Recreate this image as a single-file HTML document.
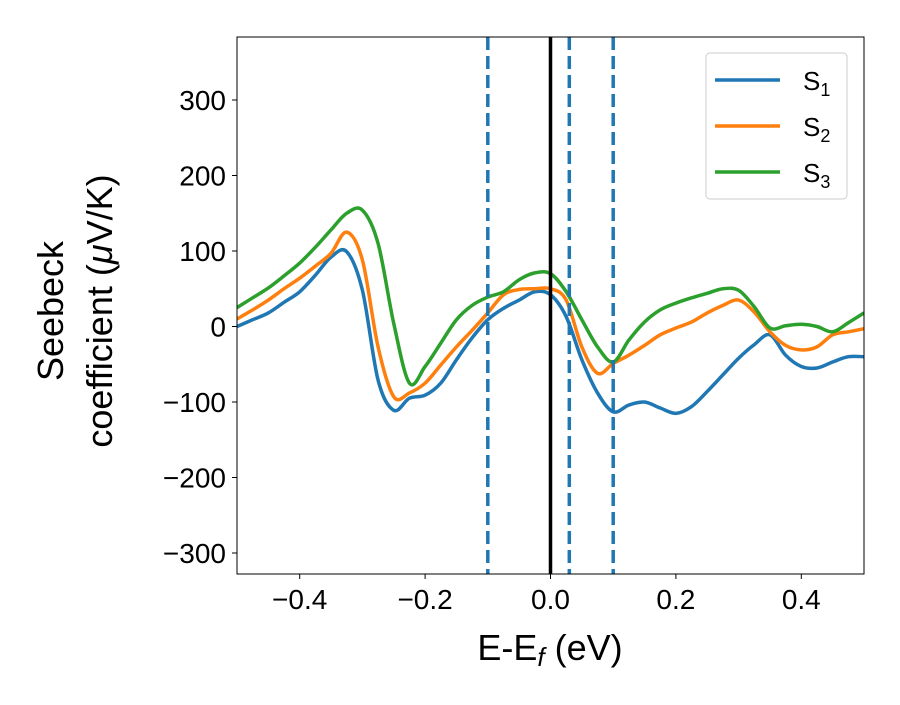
<!DOCTYPE html>
<html><head><meta charset="utf-8"><style>
body{margin:0;background:#fff}
svg text{font-family:"Liberation Sans","DejaVu Sans",sans-serif;fill:#000}
</style></head><body>
<svg id="c" width="900" height="700"></svg>
<script>
const xs=[-0.5,-0.475,-0.45,-0.425,-0.4,-0.375,-0.35,-0.325,-0.3,-0.275,-0.25,-0.225,-0.2,-0.175,-0.15,-0.125,-0.1,-0.075,-0.05,-0.025,0,0.025,0.05,0.075,0.1,0.125,0.15,0.175,0.2,0.225,0.25,0.275,0.3,0.325,0.35,0.375,0.4,0.425,0.45,0.475,0.5];
const s1=[0,9,18,32,46,68,92,99,48,-71,-111,-95,-91,-75,-44,-15,9,24,35,46,42,13,-44,-88,-113,-104,-100,-108,-115,-106,-86,-64,-42,-24,-11,-38,-53,-55,-47,-40,-40];
const s2=[10,22,35,50,64,80,97,125,88,-27,-93,-88,-75,-51,-27,-5,18,42,49,50,50,35,-27,-62,-49,-38,-25,-11,-2,6,18,28,35,19,-7,-25,-31,-27,-11,-7,-3];
const s3=[25,38,51,67,84,105,128,150,154,110,4,-75,-53,-22,9,28,39,46,62,71,70,46,9,-27,-47,-18,6,22,31,38,44,50,48,26,-2,1,3,0,-7,5,18];
const series=[["S","1",s1,"#1f77b4"],["S","2",s2,"#ff7f0e"],["S","3",s3,"#2ca02c"]];
const xTicks=[-0.4,-0.2,0.0,0.2,0.4];
const xTickLabels=["\u22120.4","\u22120.2","0.0","0.2","0.4"];
const yTicks=[-300,-200,-100,0,100,200,300];
const yTickLabels=["\u2212300","\u2212200","\u2212100","0","100","200","300"];
const vlines=[-0.1,0.03,0.1];
const L=237,R=864,T=37,B=574;
const X=v=>L+(v+0.5)*(R-L);
const Y=v=>326.5-v*0.755;
const svg=document.getElementById('c');
const NS="http://www.w3.org/2000/svg";
function mk(tag,attrs,parent){const e=document.createElementNS(NS,tag);for(const k in attrs)e.setAttribute(k,attrs[k]);(parent||svg).appendChild(e);return e;}
const clip=mk('clipPath',{id:'cp'});mk('rect',{x:L,y:T,width:R-L,height:B-T},clip);
const g=mk('g',{'clip-path':'url(#cp)'});


function path(vals){const p=xs.map((x,i)=>[X(x),Y(vals[i])]);let d=`M${p[0][0]},${p[0][1]}`;
for(let i=0;i<p.length-1;i++){const p0=p[Math.max(0,i-1)],p1=p[i],p2=p[i+1],p3=p[Math.min(p.length-1,i+2)];
d+=` C${p1[0]+(p2[0]-p0[0])/6},${p1[1]+(p2[1]-p0[1])/6} ${p2[0]-(p3[0]-p1[0])/6},${p2[1]-(p3[1]-p1[1])/6} ${p2[0]},${p2[1]}`;}return d;}
series.forEach((s,i)=>{const e=mk('path',{d:path(s[2]),fill:'none',stroke:s[3],'stroke-width':3.5,'stroke-linejoin':'round'},g);

});
const z=mk('line',{x1:X(0),x2:X(0),y1:T,y2:B,stroke:'#000','stroke-width':3.5},g);


vlines.forEach((v,i)=>{const e=mk('line',{x1:X(v),x2:X(v),y1:T,y2:B,stroke:'#1f77b4','stroke-width':3.5,'stroke-dasharray':'13,6'},g);

});
const fr=mk('rect',{x:L,y:T,width:R-L,height:B-T,fill:'none',stroke:'#000','stroke-width':1});


xTicks.forEach((v,i)=>{mk('line',{x1:X(v),x2:X(v),y1:B,y2:B+5,stroke:'#000'});
const t=mk('text',{x:X(v),y:B+35,'text-anchor':'middle','font-size':28});t.textContent=xTickLabels[i];

});
yTicks.forEach((v,i)=>{mk('line',{x1:L-5,x2:L,y1:Y(v),y2:Y(v),stroke:'#000'});
const t=mk('text',{x:L-11,y:Y(v)+10,'text-anchor':'end','font-size':28});t.textContent=yTickLabels[i];

});
</script>
<svg width="900" height="700" style="position:absolute;left:0;top:0">
<text x="550" y="660" text-anchor="middle" font-size="36">E-E<tspan font-style="italic" font-size="26" dy="6">f</tspan><tspan dy="-6"> (eV)</tspan></text>
<text transform="translate(63,311) rotate(-90)" text-anchor="middle" font-size="36">Seebeck</text>
<text transform="translate(112,311) rotate(-90)" text-anchor="middle" font-size="36">coefficient  (<tspan font-style="italic">μ</tspan>V/K)</text>
<g>
<rect x="706" y="53" width="141" height="146" rx="4" fill="#fff" stroke="#ccc"/>
<line x1="715" x2="780" y1="80" y2="80" stroke="#1f77b4" stroke-width="3.5"/>
<text x="803" y="90" font-size="26">S<tspan font-size="18" dy="6">1</tspan></text>
<line x1="715" x2="780" y1="126" y2="126" stroke="#ff7f0e" stroke-width="3.5"/>
<text x="803" y="136" font-size="26">S<tspan font-size="18" dy="6">2</tspan></text>
<line x1="715" x2="780" y1="172" y2="172" stroke="#2ca02c" stroke-width="3.5"/>
<text x="803" y="182" font-size="26">S<tspan font-size="18" dy="6">3</tspan></text>
</g>
</svg>
</body></html>
